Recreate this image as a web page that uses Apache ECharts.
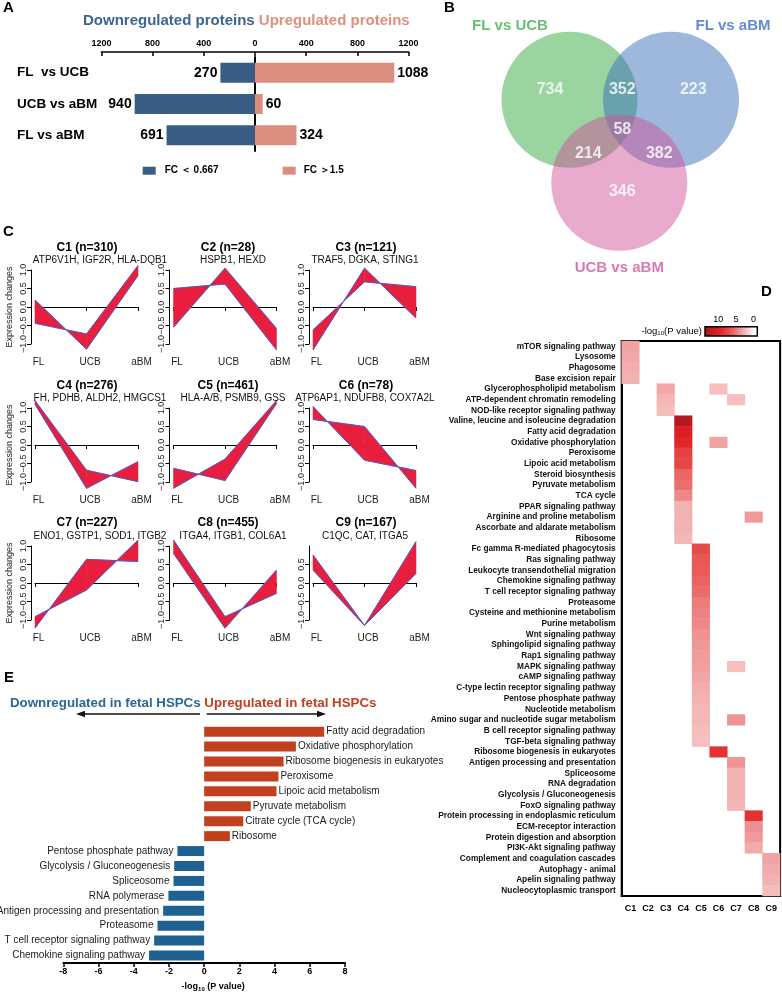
<!DOCTYPE html>
<html><head><meta charset="utf-8">
<script src="https://cdn.jsdelivr.net/npm/echarts@6/dist/echarts.min.js"></script>
<style>html,body{margin:0;padding:0;background:#fff}#c{width:782px;height:993px}</style>
</head><body><div id="c"></div>
<script>
// ================= DATA =================
// Panel A
const compareCats = ['FL  vs UCB', 'UCB vs aBM', 'FL vs aBM'];
const downCounts = [270, 940, 691];
const upCounts = [1088, 60, 324];
const legendDown = 'FC ＜ 0.667';
const legendUp = 'FC ＞1.5';

// Panel B
const vennSets = ['FL vs UCB', 'FL vs aBM', 'UCB vs aBM'];
const vennRegions = ['FL vs UCB only', 'FL vs UCB ∩ FL vs aBM', 'FL vs aBM only', 'all three', 'FL vs UCB ∩ UCB vs aBM', 'FL vs aBM ∩ UCB vs aBM', 'UCB vs aBM only'];
const vennCounts = [734, 352, 223, 58, 214, 382, 346];

// Panel C
const stages = ['FL', 'UCB', 'aBM'];
const clusterNames = ['C1', 'C2', 'C3', 'C4', 'C5', 'C6', 'C7', 'C8', 'C9'];
const clusterSizes = [310, 28, 121, 276, 461, 78, 227, 455, 167];
const clusterGenes = ['ATP6V1H, IGF2R, HLA-DQB1', 'HSPB1, HEXD', 'TRAF5, DGKA, STING1',
  'FH, PDHB, ALDH2, HMGCS1', 'HLA-A/B, PSMB9, GSS', 'ATP6AP1, NDUFB8, COX7A2L',
  'ENO1, GSTP1, SOD1, ITGB2', 'ITGA4, ITGB1, COL6A1', 'C1QC, CAT, ITGA5'];
// two edge profiles of each cluster's bundle of lines (FL, UCB, aBM)
const edgeProfileA = [
  [0.19, -1.14, 0.85], [-0.55, 1.05, -0.58], [-0.62, 0.68, 0.55],
  [1.2, -0.68, -0.99], [-0.63, -0.96, 1.12], [0.69, 0.5, -1.17],
  [-1.22, 0.64, 0.58], [1.16, -0.91, -0.28], [0.76, -1.15, 1.12]];
const edgeProfileB = [
  [-0.44, -0.73, 1.12], [0.5, 0.62, -1.16], [-1.16, 1.05, -0.3],
  [1.1, -1.17, -0.45], [-1.17, -0.38, 1.2], [1.04, -0.41, -0.69],
  [-0.91, -0.19, 1.16], [0.8, -1.22, 0.35], [0.35, -1.15, 0.26]];

// Panel D
const heatClusters = ['C1', 'C2', 'C3', 'C4', 'C5', 'C6', 'C7', 'C8', 'C9'];
const pathways = ['mTOR signaling pathway', 'Lysosome', 'Phagosome', 'Base excision repair',
  'Glycerophospholipid metabolism', 'ATP-dependent chromatin remodeling', 'NOD-like receptor signaling pathway',
  'Valine, leucine and isoleucine degradation', 'Fatty acid degradation', 'Oxidative phosphorylation',
  'Peroxisome', 'Lipoic acid metabolism', 'Steroid biosynthesis', 'Pyruvate metabolism', 'TCA cycle',
  'PPAR signaling pathway', 'Arginine and proline metabolism', 'Ascorbate and aldarate metabolism', 'Ribosome',
  'Fc gamma R-mediated phagocytosis', 'Ras signaling pathway', 'Leukocyte transendothelial migration',
  'Chemokine signaling pathway', 'T cell receptor signaling pathway', 'Proteasome',
  'Cysteine and methionine metabolism', 'Purine metabolism', 'Wnt signaling pathway',
  'Sphingolipid signaling pathway', 'Rap1 signaling pathway', 'MAPK signaling pathway', 'cAMP signaling pathway',
  'C-type lectin receptor signaling pathway', 'Pentose phosphate pathway', 'Nucleotide metabolism',
  'Amino sugar and nucleotide sugar metabolism', 'B cell receptor signaling pathway', 'TGF-beta signaling pathway',
  'Ribosome biogenesis in eukaryotes', 'Antigen processing and presentation', 'Spliceosome', 'RNA degradation',
  'Glycolysis / Gluconeogenesis', 'FoxO signaling pathway', 'Protein processing in endoplasmic reticulum',
  'ECM-receptor interaction', 'Protein digestion and absorption', 'PI3K-Akt signaling pathway',
  'Complement and coagulation cascades', 'Autophagy - animal', 'Apelin signaling pathway',
  'Nucleocytoplasmic transport'];
const heatCells = [
  ['mTOR signaling pathway', 'C1', 3.4], ['Lysosome', 'C1', 3.2], ['Phagosome', 'C1', 3.0], ['Base excision repair', 'C1', 2.8],
  ['Glycerophospholipid metabolism', 'C3', 3.2], ['ATP-dependent chromatin remodeling', 'C3', 2.7],
  ['NOD-like receptor signaling pathway', 'C3', 2.4],
  ['Glycerophospholipid metabolism', 'C6', 2.3], ['ATP-dependent chromatin remodeling', 'C7', 2.3],
  ['Valine, leucine and isoleucine degradation', 'C4', 12.6], ['Fatty acid degradation', 'C4', 10.2],
  ['Oxidative phosphorylation', 'C4', 9.4], ['Oxidative phosphorylation', 'C6', 3.4],
  ['Peroxisome', 'C4', 7.7], ['Lipoic acid metabolism', 'C4', 7.4], ['Steroid biosynthesis', 'C4', 5.9],
  ['Pyruvate metabolism', 'C4', 5.5], ['TCA cycle', 'C4', 4.5], ['PPAR signaling pathway', 'C4', 2.8],
  ['Arginine and proline metabolism', 'C4', 2.8], ['Arginine and proline metabolism', 'C8', 3.8],
  ['Ascorbate and aldarate metabolism', 'C4', 2.8], ['Ribosome', 'C4', 2.6],
  ['Fc gamma R-mediated phagocytosis', 'C5', 7.2], ['Ras signaling pathway', 'C5', 6.6],
  ['Leukocyte transendothelial migration', 'C5', 6.4], ['Chemokine signaling pathway', 'C5', 6.0],
  ['T cell receptor signaling pathway', 'C5', 5.7], ['Proteasome', 'C5', 5.0],
  ['Cysteine and methionine metabolism', 'C5', 4.8], ['Purine metabolism', 'C5', 4.5],
  ['Wnt signaling pathway', 'C5', 4.1], ['Sphingolipid signaling pathway', 'C5', 3.9],
  ['Rap1 signaling pathway', 'C5', 3.7], ['MAPK signaling pathway', 'C5', 3.6], ['MAPK signaling pathway', 'C7', 2.3],
  ['cAMP signaling pathway', 'C5', 3.3], ['C-type lectin receptor signaling pathway', 'C5', 3.0],
  ['Pentose phosphate pathway', 'C5', 2.8], ['Nucleotide metabolism', 'C5', 2.6],
  ['Amino sugar and nucleotide sugar metabolism', 'C5', 2.6], ['Amino sugar and nucleotide sugar metabolism', 'C7', 4.0],
  ['B cell receptor signaling pathway', 'C5', 2.4], ['TGF-beta signaling pathway', 'C5', 2.3],
  ['Ribosome biogenesis in eukaryotes', 'C6', 8.6], ['Antigen processing and presentation', 'C7', 4.0],
  ['Spliceosome', 'C7', 2.8], ['RNA degradation', 'C7', 2.8], ['Glycolysis / Gluconeogenesis', 'C7', 2.8],
  ['FoxO signaling pathway', 'C7', 2.7], ['Protein processing in endoplasmic reticulum', 'C8', 8.6],
  ['ECM-receptor interaction', 'C8', 4.2], ['Protein digestion and absorption', 'C8', 3.8],
  ['PI3K-Akt signaling pathway', 'C8', 3.1], ['Complement and coagulation cascades', 'C9', 3.4],
  ['Autophagy - animal', 'C9', 3.1], ['Apelin signaling pathway', 'C9', 2.8], ['Nucleocytoplasmic transport', 'C9', 2.4]];
const colorbarTicks = [0, 5, 10];

// Panel E
const enrichTerms = ['Fatty acid degradation', 'Oxidative phosphorylation', 'Ribosome biogenesis in eukaryotes',
  'Peroxisome', 'Lipoic acid metabolism', 'Pyruvate metabolism', 'Citrate cycle (TCA cycle)', 'Ribosome',
  'Pentose phosphate pathway', 'Glycolysis / Gluconeogenesis', 'Spliceosome', 'RNA polymerase',
  'Antigen processing and presentation', 'Proteasome', 'T cell receptor signaling pathway', 'Chemokine signaling pathway'];
const enrichValues = [6.82, 5.21, 4.51, 4.22, 4.11, 2.65, 2.22, 1.46,
  -1.52, -1.70, -1.74, -2.03, -2.33, -2.65, -2.84, -3.13];

// ================= LAYOUT & STYLE =================
const FONT = "'Liberation Sans', Arial, Helvetica, sans-serif";
const L = {
  A: {left: 101.4, top: 57, width: 307.2, height: 94},
  B: {left: 380, top: 0, width: 402, height: 290, r: 68,
      centers: [[189.5, 99.7], [291, 99.7], [239.3, 182.7]],
      colors: ['rgba(43,165,58,0.6)', 'rgba(53,107,183,0.6)', 'rgba(207,80,150,0.6)'],
      countPos: [[170, 90], [242.3, 89.3], [313.3, 89.3], [242.3, 130], [208.3, 153.3], [279.3, 153.3], [242.3, 191.7]],
      namePos: [[130, 26], [353, 26], [239.3, 268]],
      nameColors: ['#41b04d', '#3b6fc1', '#d3569c']},
  C: {colX: [35, 173.5, 313], width: 103, rowY: [270, 408, 546], height: 74,
      titleY: [248, 386, 523], subY: [260, 398, 536], titleX: [87, 228, 366], subX: [100, 233, 365]},
  D: {left: 621.7, top: 341, width: 158.4, height: 555},
  CB: {left: 705, top: 326.7, width: 52.3, height: 9.3, min: -1.1, max: 13.8},
  E: {left: 63.3, top: 724.2, width: 281.7, height: 241.1}
};
const heatColors = ['#ffffff', '#f6c6c6', '#ef9494', '#ea6262', '#e53a3a', '#e01e22', '#c11a20', '#9c161b'];
const heatMax = 14;
const RED = '#e81e3c', EDGE = '#4a5ccf';

// ================= BUILD =================
const grids = [], xAxes = [], yAxes = [], series = [], graphics = [];
function txt(x, y, text, size, weight, fill, align) {
  return {type: 'text', x, y, silent: true, z: 100,
    style: {text, fontSize: size, fontWeight: weight, fontFamily: FONT, fill, align: align || 'left', verticalAlign: 'middle'}};
}

// ---- Panel A ----
grids.push({left: L.A.left, top: L.A.top, width: L.A.width, height: L.A.height});
xAxes.push({gridIndex: 0, type: 'value', min: -1200, max: 1200, interval: 400, position: 'top', offset: 5,
  axisLine: {show: true, onZero: false, lineStyle: {color: '#000', width: 1.5}},
  axisTick: {show: true, inside: true, length: 4, lineStyle: {color: '#000', width: 1.5}},
  axisLabel: {formatter: v => Math.abs(v), fontSize: 9, fontWeight: 'bold', color: '#000', margin: 4},
  splitLine: {show: false}});
yAxes.push({gridIndex: 0, type: 'category', data: compareCats, inverse: true,
  axisLine: {show: true, onZero: true, lineStyle: {color: '#000', width: 2}}, axisTick: {show: false}, axisLabel: {show: false}});
yAxes.push({gridIndex: 0, type: 'category', data: compareCats, inverse: true, position: 'left',
  axisLine: {show: false, onZero: false}, axisTick: {show: false},
  axisLabel: {align: 'left', margin: L.A.left - 17, fontSize: 13.5, fontWeight: 'bold', color: '#000', interval: 0}});
series.push({name: legendDown, type: 'bar', xAxisIndex: 0, yAxisIndex: 0, data: downCounts.map(v => -v),
  barWidth: 20, barGap: '-100%', itemStyle: {color: '#385e86'},
  label: {show: true, position: 'left', distance: 3, formatter: p => Math.abs(p.value), fontSize: 14, fontWeight: 'bold', color: '#000'}});
series.push({name: legendUp, type: 'bar', xAxisIndex: 0, yAxisIndex: 0, data: upCounts,
  barWidth: 20, barGap: '-100%', itemStyle: {color: '#dc8d7d'},
  label: {show: true, position: 'right', distance: 3, fontSize: 14, fontWeight: 'bold', color: '#000'}});
const legends = [
  {data: [legendDown], left: 142.7, top: 165.7, padding: 0, itemWidth: 13, itemHeight: 8, icon: 'rect',
   textStyle: {fontSize: 10, fontWeight: 'bold', color: '#000', padding: [0, 0, 0, 4]}},
  {data: [legendUp], left: 282.7, top: 165.7, padding: 0, itemWidth: 13, itemHeight: 8, icon: 'rect',
   textStyle: {fontSize: 10, fontWeight: 'bold', color: '#000', padding: [0, 0, 0, 3]}}];
graphics.push({type: 'text', x: 83, y: 21, silent: true, style: {text: '{a|Downregulated proteins} {b|Upregulated proteins}',
  fontSize: 15, fontWeight: 'bold', fontFamily: FONT, align: 'left', verticalAlign: 'middle',
  rich: {a: {fill: '#3d6592', fontSize: 15, fontWeight: 'bold', fontFamily: FONT},
         b: {fill: '#e0907e', fontSize: 15, fontWeight: 'bold', fontFamily: FONT}}}});

// ---- Panel B (Venn) ----
const gB = grids.length;
grids.push({left: L.B.left, top: L.B.top, width: L.B.width, height: L.B.height});
const xB = xAxes.length; xAxes.push({gridIndex: gB, type: 'value', min: 0, max: L.B.width, show: false});
const yB = yAxes.length; yAxes.push({gridIndex: gB, type: 'value', min: 0, max: L.B.height, inverse: true, show: false});
series.push({type: 'scatter', xAxisIndex: xB, yAxisIndex: yB, silent: true, symbol: 'circle', symbolSize: 2 * L.B.r,
  data: vennSets.map((s, i) => ({name: s, value: L.B.centers[i], itemStyle: {color: L.B.colors[i]}}))});
series.push({type: 'scatter', xAxisIndex: xB, yAxisIndex: yB, silent: true, symbolSize: 1, itemStyle: {color: 'transparent'}, z: 5,
  data: vennCounts.map((c, i) => ({name: vennRegions[i], value: [...L.B.countPos[i], c]})),
  label: {show: true, position: 'inside', formatter: p => p.value[2], color: '#fff', fontSize: 16, fontWeight: 'bold'}});
series.push({type: 'scatter', xAxisIndex: xB, yAxisIndex: yB, silent: true, symbolSize: 1, itemStyle: {color: 'transparent'},
  data: vennSets.map((s, i) => ({name: s, value: L.B.namePos[i], label: {color: L.B.nameColors[i]}})),
  label: {show: true, position: 'inside', formatter: p => p.name, fontSize: 15, fontWeight: 'bold'}});

// ---- Panel C ----
clusterNames.forEach((cn, k) => {
  const row = Math.floor(k / 3), col = k % 3;
  const g = grids.length;
  grids.push({left: L.C.colX[col], top: L.C.rowY[row], width: L.C.width, height: L.C.height});
  const xi = xAxes.length;
  xAxes.push({gridIndex: g, type: 'category', data: stages, boundaryGap: false, offset: 10,
    axisLine: {lineStyle: {color: '#000', width: 1}}, axisTick: {length: 4, lineStyle: {color: '#000'}},
    axisLabel: {fontSize: 10, color: '#222', margin: 3, padding: [0, 0, 0, 7], interval: 0}, splitLine: {show: false}});
  const yi = yAxes.length;
  yAxes.push({gridIndex: g, type: 'value', min: -1, max: 1, interval: 0.5, offset: 4,
    axisLine: {show: true, lineStyle: {color: '#000', width: 1}},
    axisTick: {show: true, length: 4, lineStyle: {color: '#000'}},
    axisLabel: {rotate: 90, fontSize: 9, color: '#222', margin: 3, showMaxLabel: k !== 8,
      formatter: v => (v < 0 ? '−' : '') + Math.abs(v).toFixed(1)},
    splitLine: {show: false},
    name: col === 0 ? 'Expression changes' : '', nameLocation: 'middle', nameGap: 17, nameRotate: 90,
    nameTextStyle: {fontSize: 9, color: '#222'}});
  const A = edgeProfileA[k], B = edgeProfileB[k];
  series.push({type: 'custom', xAxisIndex: xi, yAxisIndex: yi, silent: true, clip: false,
    encode: {x: 0, y: [1, 2, 3, 4]},
    data: [[0, A[0], A[1], B[0], B[1]], [1, A[1], A[2], B[1], B[2]]],
    renderItem: (params, api) => {
      const i = api.value(0);
      const p1 = api.coord([i, api.value(1)]), p2 = api.coord([i + 1, api.value(2)]);
      const p3 = api.coord([i + 1, api.value(4)]), p4 = api.coord([i, api.value(3)]);
      return {type: 'polygon', shape: {points: [p1, p2, p3, p4]}, style: {fill: RED, stroke: RED, lineWidth: 0.5}};
    }});
  [A, B].forEach(prof => series.push({type: 'line', xAxisIndex: xi, yAxisIndex: yi, data: prof, symbol: 'none', silent: true,
    clip: false, z: 3, lineStyle: {color: EDGE, width: 1}}));
  graphics.push(txt(L.C.titleX[col], L.C.titleY[row], `${cn} (n=${clusterSizes[k]})`, 12, 'bold', '#000', 'center'));
  graphics.push(txt(L.C.subX[col], L.C.subY[row], clusterGenes[k], 10, 'normal', '#111', 'center'));
});

// ---- Panel D (heatmap) ----
const gD = grids.length;
grids.push({left: L.D.left, top: L.D.top, width: L.D.width, height: L.D.height, show: true, borderColor: '#000', borderWidth: 2, backgroundColor: 'transparent'});
const xD = xAxes.length;
xAxes.push({gridIndex: gD, type: 'category', data: heatClusters, position: 'bottom',
  axisLine: {lineStyle: {color: '#000', width: 2}}, axisTick: {length: 5, alignWithLabel: true, lineStyle: {color: '#000', width: 1.5}},
  axisLabel: {fontSize: 9, fontWeight: 'bold', color: '#000', margin: 8, interval: 0}, splitLine: {show: false}});
const yD = yAxes.length;
yAxes.push({gridIndex: gD, type: 'category', data: pathways, inverse: true,
  axisLine: {lineStyle: {color: '#000', width: 2}}, axisTick: {length: 4, alignWithLabel: true, lineStyle: {color: '#000', width: 1.5}},
  axisLabel: {fontSize: 8.3, fontWeight: 'bold', color: '#111', margin: 6, interval: 0}, splitLine: {show: false}});
const heatSeriesIndex = series.length;
series.push({type: 'heatmap', xAxisIndex: xD, yAxisIndex: yD, silent: true,
  data: heatCells.map(([p, c, v]) => [heatClusters.indexOf(c), pathways.indexOf(p), v]),
  itemStyle: {borderWidth: 0}});

// colour bar
const gCB = grids.length;
grids.push({left: L.CB.left, top: L.CB.top, width: L.CB.width, height: L.CB.height});
const xCB = xAxes.length;
xAxes.push({gridIndex: gCB, type: 'value', min: L.CB.min, max: L.CB.max, inverse: true, position: 'top',
  axisLine: {show: false}, axisTick: {show: false}, splitLine: {show: false},
  axisLabel: {customValues: colorbarTicks, fontSize: 9, color: '#000', margin: 3}});
const yCB = yAxes.length;
yAxes.push({gridIndex: gCB, type: 'value', min: 0, max: 1, show: false});
const cbStops = heatColors.map((c, j) => {
  const v = j * heatMax / (heatColors.length - 1);
  return {offset: Math.min(1, Math.max(0, (L.CB.max - v) / (L.CB.max - L.CB.min))), color: c};
}).sort((a, b) => a.offset - b.offset);
cbStops.push({offset: 1, color: '#ffffff'});
series.push({type: 'custom', xAxisIndex: xCB, yAxisIndex: yCB, silent: true, data: [[L.CB.max, L.CB.min]],
  renderItem: (params, api) => {
    const a = api.coord([api.value(0), 1]), b = api.coord([api.value(1), 0]);
    return {type: 'rect', shape: {x: a[0], y: a[1], width: b[0] - a[0], height: b[1] - a[1]},
      style: {fill: new echarts.graphic.LinearGradient(0, 0, 1, 0, cbStops), stroke: '#000', lineWidth: 1.5}};
  }});
graphics.push({type: 'text', x: 702, y: 331, silent: true, style: {text: '-log{s|10}(P value)', fontSize: 9.5, fontFamily: FONT, fill: '#000',
  align: 'right', verticalAlign: 'middle', rich: {s: {fontSize: 6, fontFamily: FONT, fill: '#000', padding: [5, 0, 0, 0]}}}});

// ---- Panel E ----
const gE = grids.length;
grids.push({left: L.E.left, top: L.E.top, width: L.E.width, height: L.E.height});
const xE = xAxes.length;
xAxes.push({gridIndex: gE, type: 'value', min: -8, max: 8, interval: 2,
  axisLine: {show: true, onZero: false, lineStyle: {color: '#000', width: 2}},
  axisTick: {show: true, length: 4, lineStyle: {color: '#000', width: 1.5}},
  axisLabel: {fontSize: 9, fontWeight: 'bold', color: '#000', margin: 4}, splitLine: {show: false},
  name: '-log{s|10} (P value)', nameLocation: 'middle', nameGap: 18,
  nameTextStyle: {fontSize: 9, fontWeight: 'bold', color: '#000', padding: [0, 0, 0, 18],
    rich: {s: {fontSize: 6, fontWeight: 'bold', padding: [5, 0, 0, 0]}}}});
const yE = yAxes.length;
yAxes.push({gridIndex: gE, type: 'category', data: enrichTerms, inverse: true, show: false, axisLine: {onZero: false}});
series.push({type: 'bar', xAxisIndex: xE, yAxisIndex: yE, data: enrichValues.map(v => v > 0 ? v : '-'), barWidth: 10, barGap: '-100%',
  itemStyle: {color: '#c1411f'}, silent: true,
  label: {show: true, position: 'right', distance: 2, formatter: p => p.name, fontSize: 10, color: '#1a1a1a'}});
series.push({type: 'bar', xAxisIndex: xE, yAxisIndex: yE, data: enrichValues.map(v => v < 0 ? v : '-'), barWidth: 10, barGap: '-100%',
  itemStyle: {color: '#1f6191'}, silent: true,
  label: {show: true, position: 'left', distance: 4, formatter: p => p.name, fontSize: 10, color: '#1a1a1a'}});
graphics.push({type: 'text', x: 10, y: 703, silent: true, style: {text: '{a|Downregulated in fetal HSPCs} {b|Upregulated in fetal HSPCs}',
  fontSize: 13.3, fontWeight: 'bold', fontFamily: FONT, align: 'left', verticalAlign: 'middle',
  rich: {a: {fill: '#28669b', fontSize: 13.3, fontWeight: 'bold', fontFamily: FONT},
         b: {fill: '#c3401f', fontSize: 13.3, fontWeight: 'bold', fontFamily: FONT}}}});
// arrows
graphics.push({type: 'line', silent: true, shape: {x1: 200, y1: 714, x2: 82, y2: 714}, style: {stroke: '#111', lineWidth: 1.5}});
graphics.push({type: 'polygon', silent: true, shape: {points: [[76, 714], [85, 710.8], [85, 717.2]]}, style: {fill: '#111'}});
graphics.push({type: 'line', silent: true, shape: {x1: 206.7, y1: 714, x2: 320, y2: 714}, style: {stroke: '#111', lineWidth: 1.5}});
graphics.push({type: 'polygon', silent: true, shape: {points: [[326, 714], [317, 710.8], [317, 717.2]]}, style: {fill: '#111'}});

// panel letters
[['A', 3, 8], ['B', 444, 8], ['C', 3, 232], ['D', 761, 292], ['E', 4, 678]].forEach(([t, x, y]) =>
  graphics.push(txt(x, y, t, 15, 'bold', '#000', 'left')));

const chart = echarts.init(document.getElementById('c'), null, {renderer: 'canvas', width: 782, height: 993});
chart.setOption({
  animation: false,
  backgroundColor: '#fff',
  textStyle: {fontFamily: FONT},
  grid: grids, xAxis: xAxes, yAxis: yAxes, legend: legends,
  visualMap: [{type: 'continuous', min: 0, max: heatMax, show: false, seriesIndex: heatSeriesIndex, inRange: {color: heatColors}}],
  series, graphic: graphics
});
</script></body></html>
